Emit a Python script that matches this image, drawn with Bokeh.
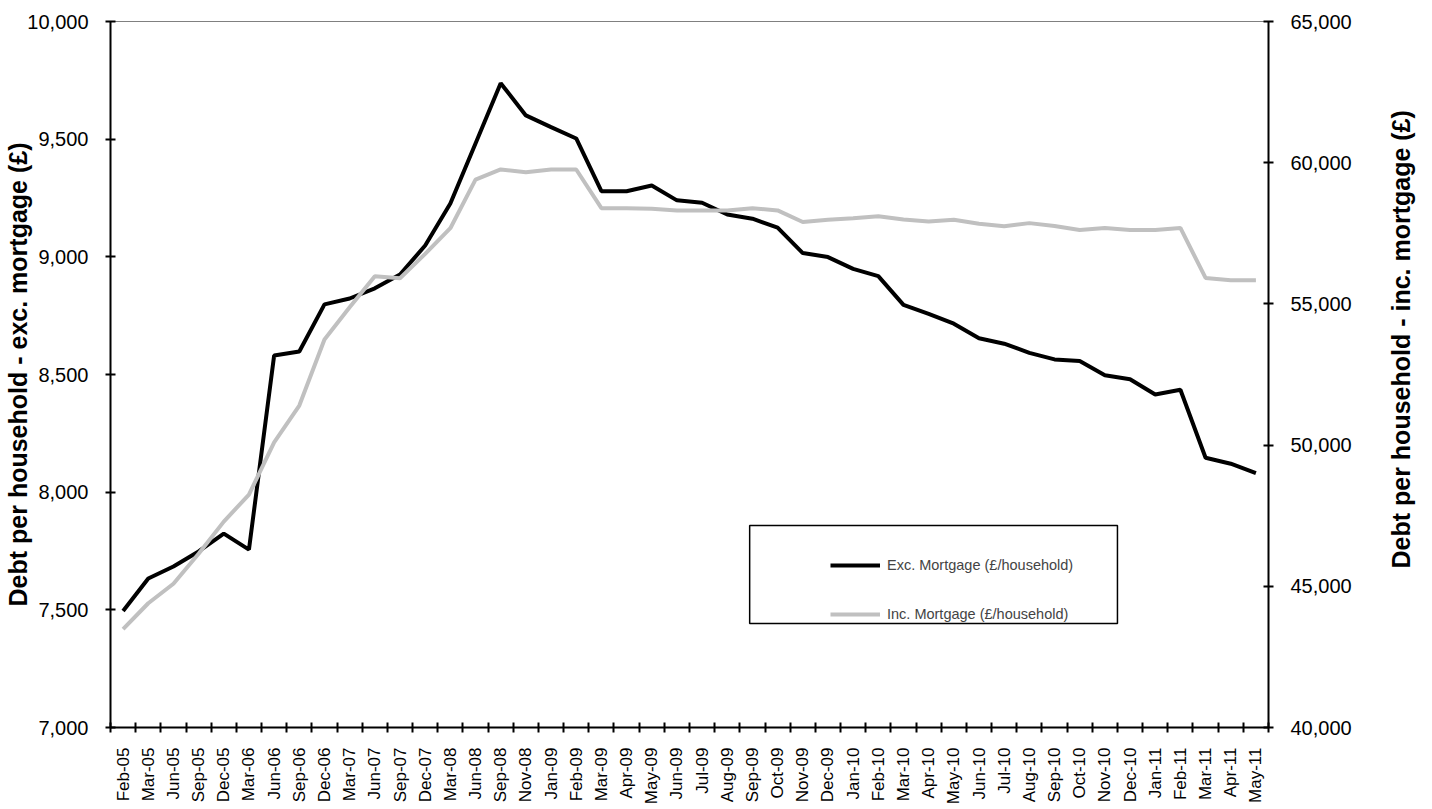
import math
from bokeh.plotting import figure
from bokeh.models import (Range1d, LinearAxis, FixedTicker, NumeralTickFormatter,
                          Legend, LegendItem, BoxAnnotation)
from bokeh.embed import file_html
from bokeh.resources import INLINE

months = ["Feb-05", "Mar-05", "Jun-05", "Sep-05", "Dec-05", "Mar-06", "Jun-06", "Sep-06",
          "Dec-06", "Mar-07", "Jun-07", "Sep-07", "Dec-07", "Mar-08", "Jun-08", "Sep-08",
          "Nov-08", "Jan-09", "Feb-09", "Mar-09", "Apr-09", "May-09", "Jun-09", "Jul-09",
          "Aug-09", "Sep-09", "Oct-09", "Nov-09", "Dec-09", "Jan-10", "Feb-10", "Mar-10",
          "Apr-10", "May-10", "Jun-10", "Jul-10", "Aug-10", "Sep-10", "Oct-10", "Nov-10",
          "Dec-10", "Jan-11", "Feb-11", "Mar-11", "Apr-11", "May-11"]

exc_mortgage = [7495, 7633, 7684, 7748, 7824, 7756, 8581, 8598, 8798, 8823, 8866, 8925,
                9048, 9227, 9482, 9738, 9601, 9551, 9503, 9279, 9279, 9303, 9240, 9230,
                9180, 9162, 9124, 9016, 8999, 8949, 8918, 8796, 8758, 8716, 8654, 8631,
                8592, 8564, 8557, 8497, 8480, 8415, 8435, 8146, 8121, 8081]

inc_mortgage = [43480, 44400, 45090, 46150, 47290, 48250, 50100, 51400, 53740, 54880,
                55980, 55910, 56770, 57680, 59400, 59760, 59660, 59760, 59760, 58390,
                58390, 58370, 58310, 58310, 58310, 58390, 58310, 57900, 57980, 58030,
                58100, 57990, 57920, 57980, 57840, 57750, 57860, 57760, 57620, 57690,
                57620, 57620, 57690, 55920, 55840, 55840]

left_ticks = [7000, 7500, 8000, 8500, 9000, 9500, 10000]
right_ticks = [40000, 45000, 50000, 55000, 60000, 65000]

left_title = "Debt per household - exc. mortgage (£)"
right_title = "Debt per household - inc. mortgage (£)"
series_names = ["Exc. Mortgage (£/household)", "Inc. Mortgage (£/household)"]

FONT = "Liberation Sans"
n = len(months)
xs = [i + 0.5 for i in range(n)]

p = figure(width=1432, height=808, output_backend="svg", toolbar_location=None,
           x_range=Range1d(0, n), y_range=Range1d(left_ticks[0], left_ticks[-1]),
           min_border_left=110, min_border_right=164, min_border_top=21, min_border_bottom=81,
           x_axis_type=None, y_axis_type=None)
p.extra_y_ranges = {"inc": Range1d(right_ticks[0], right_ticks[-1])}
p.xgrid.visible = False
p.ygrid.visible = False
p.outline_line_color = "#808080"
p.outline_line_width = 1
p.background_fill_color = "white"
p.border_fill_color = "white"

def style_axis(ax, size):
    ax.axis_line_color = "black"
    ax.axis_line_width = 2
    ax.major_tick_line_color = "black"
    ax.major_tick_line_width = 2
    ax.major_tick_in = 5
    ax.major_tick_out = 5
    ax.minor_tick_line_color = None
    ax.major_label_text_font = FONT
    ax.major_label_text_font_size = size
    ax.major_label_text_color = "black"
    ax.axis_label_text_font = FONT
    ax.axis_label_text_font_size = "25px"
    ax.axis_label_text_font_style = "bold"
    ax.axis_label_text_color = "black"

# bottom axis: labels at category centers, ticks at category boundaries
xaxis = LinearAxis(ticker=FixedTicker(ticks=xs, minor_ticks=list(range(n + 1))))
style_axis(xaxis, "17px")
xaxis.major_tick_line_color = None
xaxis.major_tick_in = 0
xaxis.major_tick_out = 5
xaxis.minor_tick_line_color = "black"
xaxis.minor_tick_line_width = 2
xaxis.minor_tick_in = 5
xaxis.minor_tick_out = 5
xaxis.major_label_orientation = math.pi / 2
xaxis.major_label_standoff = 15
xaxis.major_label_overrides = {x: m for x, m in zip(xs, months)}
p.add_layout(xaxis, "below")

yleft = LinearAxis(ticker=FixedTicker(ticks=left_ticks), formatter=NumeralTickFormatter(format="0,0"))
style_axis(yleft, "20px")
yleft.major_label_standoff = 17
yleft.axis_label = left_title
yleft.axis_label_standoff = -8
p.add_layout(yleft, "left")

yright = LinearAxis(y_range_name="inc", ticker=FixedTicker(ticks=right_ticks),
                    formatter=NumeralTickFormatter(format="0,0"))
style_axis(yright, "20px")
yright.major_label_standoff = 17
p.add_layout(yright, "right")

# right-hand axis title, reading bottom-to-top like the reference
title_start = 45630  # where the title text begins, on the right-hand scale
rtitle = LinearAxis(y_range_name="inc", ticker=FixedTicker(ticks=[title_start]),
                    major_label_overrides={title_start: right_title})
rtitle.axis_line_color = None
rtitle.major_tick_line_color = None
rtitle.minor_tick_line_color = None
rtitle.major_tick_in = 0
rtitle.major_tick_out = 0
rtitle.major_label_orientation = math.pi / 2
rtitle.major_label_standoff = 47
rtitle.major_label_text_font = FONT
rtitle.major_label_text_font_size = "25px"
rtitle.major_label_text_font_style = "bold"
rtitle.major_label_text_color = "black"
p.add_layout(rtitle, "right")

r1 = p.line(xs, exc_mortgage, line_color="black", line_width=4)
r2 = p.line(xs, inc_mortgage, line_color="#C0C0C0", line_width=4, y_range_name="inc")

legend = Legend(items=[LegendItem(label=series_names[0], renderers=[r1]),
                       LegendItem(label=series_names[1], renderers=[r2])],
                location=(720, 103), orientation="vertical", padding=15, spacing=29,
                label_height=20, glyph_height=20, glyph_width=50, label_standoff=7,
                border_line_color=None, background_fill_alpha=0,
                label_text_font=FONT, label_text_font_size="14.5px", margin=0)
p.add_layout(legend)

p.add_layout(BoxAnnotation(left=25.39, right=40.0, bottom=7442, top=7858,
                           fill_color=None, fill_alpha=0, line_color="black",
                           line_width=1.5, line_alpha=1))

open("out.html", "w").write(file_html(p, INLINE))
